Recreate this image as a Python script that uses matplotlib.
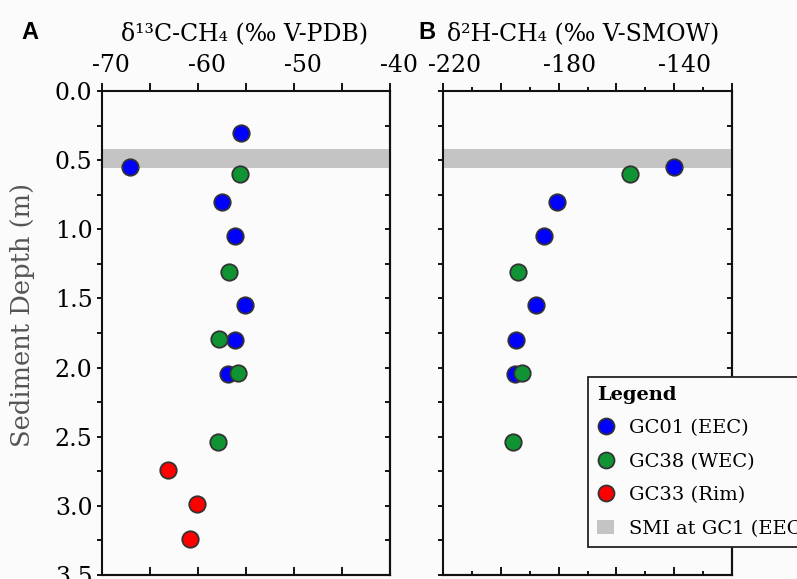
import numpy as np
import matplotlib
matplotlib.use("Agg")
import matplotlib.pyplot as plt
from matplotlib.transforms import ScaledTranslation
from matplotlib.patches import Patch
from matplotlib.lines import Line2D

plt.rcParams['font.family'] = ['DejaVu Serif']

# GC01 (EEC)
gc01_depth_c = [0.30, 0.55, 0.80, 1.05, 1.55, 1.80, 2.05]
gc01_d13c = [-55.5, -67.1, -57.5, -56.1, -55.1, -56.1, -56.9]
gc01_depth_h = [0.55, 0.80, 1.05, 1.55, 1.80, 2.05]
gc01_d2h = [-140.0, -180.6, -185.1, -187.9, -194.8, -195.1]

# GC38 (WEC)
gc38_depth_c = [0.60, 1.31, 1.79, 2.04, 2.54]
gc38_d13c = [-55.6, -56.8, -57.8, -55.8, -57.9]
gc38_depth_h = [0.60, 1.31, 2.04, 2.54]
gc38_d2h = [-155.3, -194.1, -192.8, -195.7]

# GC33 (Rim)
gc33_depth_c = [2.74, 2.99, 3.24]
gc33_d13c = [-63.1, -60.1, -60.8]

# sulfate-methane interface at GC1
smi_top, smi_bottom = 0.42, 0.56

blue = '#0000ff'
green = '#109433'
red = '#ff0000'
bg = '#fbfbfb'

fig = plt.figure(figsize=(7.97, 5.79), dpi=100, facecolor=bg)
axA = fig.add_axes([0.1276, 0.0069, 0.3617, 0.8359], facecolor=bg)
axB = fig.add_axes([0.5562, 0.0069, 0.3619, 0.8359], facecolor=bg)

msize = 140
edge = '#333333'

for ax in (axA, axB):
    ax.axhspan(smi_top, smi_bottom, color='#c4c4c4', lw=0, zorder=1)
    ax.set_ylim(3.5, 0.0)
    for s in ax.spines.values():
        s.set_linewidth(1.5)
        s.set_color('#111111')

axA.scatter(gc01_d13c, gc01_depth_c, s=msize, c=blue, edgecolors=edge, linewidths=1.3, zorder=3)
axA.scatter(gc38_d13c, gc38_depth_c, s=msize, c=green, edgecolors=edge, linewidths=1.3, zorder=3)
axA.scatter(gc33_d13c, gc33_depth_c, s=msize, c=red, edgecolors=edge, linewidths=1.3, zorder=3)

axB.scatter(gc01_d2h, gc01_depth_h, s=msize, c=blue, edgecolors=edge, linewidths=1.3, zorder=3)
axB.scatter(gc38_d2h, gc38_depth_h, s=msize, c=green, edgecolors=edge, linewidths=1.3, zorder=3)

# panel A x axis
axA.set_xlim(-70, -40)
xa = np.arange(-70, -39, 5)
axA.set_xticks(xa)
axA.set_xticklabels(['%d' % v if v % 10 == 0 else '' for v in xa])
axA.xaxis.tick_top()
axA.tick_params(axis='x', which='major', direction='out', length=5.8, width=1.3,
                labelsize=17, pad=4, top=True, bottom=False)

# panel B x axis
axB.set_xlim(-220, -120)
xb = np.arange(-220, -119, 20)
xb_minor = np.arange(-210, -119, 20)
axB.set_xticks(xb)
axB.set_xticks(xb_minor, minor=True)
axB.set_xticklabels(['%d' % v if (v + 220) % 40 == 0 else '' for v in xb])
axB.xaxis.tick_top()
axB.tick_params(axis='x', which='major', direction='out', length=5.8, width=1.3,
                labelsize=17, pad=4, top=True, bottom=False)
axB.tick_params(axis='x', which='minor', direction='out', length=2.6, width=1.3,
                top=True, bottom=False)

# bottom ticks point inward
for ax, maj, mn in ((axA, xa, None), (axB, xb, xb_minor)):
    sec = ax.secondary_xaxis('bottom')
    sec.set_xticks(maj)
    sec.set_xticklabels([])
    sec.tick_params(which='major', direction='in', length=5.8, width=1.3)
    if mn is not None:
        sec.set_xticks(mn, minor=True)
        sec.tick_params(which='minor', direction='in', length=2.6, width=1.3)
    sec.spines['bottom'].set_linewidth(1.5)

# y axes: outward on the left, inward on the right
yt = np.arange(0, 3.51, 0.25)
for ax in (axA, axB):
    ax.set_yticks(yt)
    ax.tick_params(axis='y', direction='out', length=3.6, width=1.3, left=True, right=False)
    sec = ax.secondary_yaxis('right')
    sec.set_yticks(yt)
    sec.set_yticklabels([])
    sec.tick_params(direction='in', length=3.6, width=1.3)
    sec.spines['right'].set_linewidth(1.5)

axA.set_yticklabels(['%.1f' % v if abs(v * 2 - round(v * 2)) < 1e-6 else '' for v in yt])
axA.tick_params(axis='y', labelsize=17, pad=3)
axB.set_yticklabels([])

# top tick labels sit a little right of their ticks in the original
for ax, dx in ((axA, 0.09), (axB, 0.11)):
    off = ScaledTranslation(dx, 0, fig.dpi_scale_trans)
    for lab in ax.get_xticklabels():
        lab.set_transform(lab.get_transform() + off)

axA.set_ylabel('Sediment Depth (m)', fontsize=18.5, color='#555555')
axA.yaxis.set_label_coords(-0.232, 0.537)

fig.text(0.3069, 0.941, 'δ¹³C-CH₄ (‰ V-PDB)', fontsize=17, ha='center', va='center')
fig.text(0.7315, 0.941, 'δ²H-CH₄ (‰ V-SMOW)', fontsize=17, ha='center', va='center')
fig.text(0.037, 0.944, 'A', fontsize=17, fontweight='bold', ha='center', va='center',
         family='Liberation Sans')
fig.text(0.536, 0.944, 'B', fontsize=17, fontweight='bold', ha='center', va='center',
         family='Liberation Sans')

handles = [
    Line2D([], [], ls='', marker='o', ms=11.5, mfc=blue, mec=edge, mew=1.3),
    Line2D([], [], ls='', marker='o', ms=11.5, mfc=green, mec=edge, mew=1.3),
    Line2D([], [], ls='', marker='o', ms=11.5, mfc=red, mec=edge, mew=1.3),
    Patch(facecolor='#c4c4c4', edgecolor='none'),
]
labels = ['GC01 (EEC)', 'GC38 (WEC)', 'GC33 (Rim)', 'SMI at GC1 (EEC)']
leg = fig.legend(handles, labels, loc='upper left', bbox_to_anchor=(588 / 797, 1 - 377 / 579),
                 borderaxespad=0, fontsize=14,
                 title='Legend', title_fontproperties={'weight': 'bold', 'size': 14},
                 alignment='left', frameon=True, fancybox=False, facecolor=bg,
                 edgecolor='#222222', framealpha=1, handlelength=0.9, handleheight=0.75,
                 handletextpad=0.75, borderpad=0.45, labelspacing=0.8)
leg.get_frame().set_linewidth(1.3)

fig.savefig('out.png', dpi=100, facecolor=bg)
